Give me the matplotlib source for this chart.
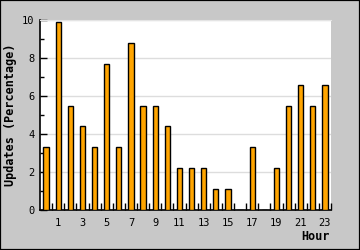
import matplotlib
matplotlib.use("Agg")
import matplotlib.pyplot as plt
from matplotlib.patches import Rectangle

hours = list(range(24))
updates = [3.3, 9.9, 5.5, 4.4, 3.3, 7.7, 3.3, 8.8, 5.5, 5.5, 4.4, 2.2,
           2.2, 2.2, 1.1, 1.1, 0.0, 3.3, 0.0, 2.2, 5.5, 6.6, 5.5, 6.6]
xtick_labels = [str(h) for h in hours if h % 2 == 1]
yticks = [0, 2, 4, 6, 8, 10]

W, H = 360, 250
fig = plt.figure(figsize=(W / 100, H / 100), dpi=100, facecolor="#c8c8c8")
ax = fig.add_axes([40 / W, 1 - 210 / H, 291 / W, 190 / H])
ax.set_facecolor("white")

ax.bar(hours, updates, width=0.44, color="#ffa500", edgecolor="black",
       linewidth=1.0, zorder=3)

ax.set_xlim(-0.5, 23.5)
ax.set_ylim(0, 10)

ax.set_yticks(yticks)
ax.set_yticks([1, 3, 5, 7, 9], minor=True)
ax.grid(axis="y", which="major", color="#dddddd", linewidth=1, zorder=0)

ax.set_xticks([h for h in hours if h % 2 == 1])
ax.set_xticklabels(xtick_labels)
ax.set_xticks([h + 0.5 for h in hours], minor=True)

mono = "DejaVu Sans Mono"
for lab in ax.get_xticklabels() + ax.get_yticklabels():
    lab.set_fontfamily(mono)
    lab.set_fontsize(7.5)

ax.tick_params(axis="y", which="major", direction="in", length=5, width=1, pad=4)
ax.tick_params(axis="y", which="minor", direction="in", length=3, width=1)
ax.tick_params(axis="x", which="major", length=0, pad=6)
ax.tick_params(axis="x", which="minor", direction="in", length=5, width=1)

ax.spines["right"].set_visible(False)
ax.spines["top"].set_color("#e4e4e4")
ax.spines["left"].set_linewidth(1.2)
ax.spines["bottom"].set_linewidth(1.2)

fig.text(11 / W, 1 - 115 / H, "Updates (Percentage)", rotation=90,
         ha="center", va="center", fontsize=8.5, fontweight="bold",
         family=mono)
fig.text(330 / W, 1 - 236 / H, "Hour", ha="right", va="center",
         fontsize=8.5, fontweight="bold", family=mono)

fig.patches.append(Rectangle((0, 0), 1, 1, transform=fig.transFigure,
                             fill=False, edgecolor="black", linewidth=1.6))

fig.savefig("out.png", dpi=100, facecolor=fig.get_facecolor())
